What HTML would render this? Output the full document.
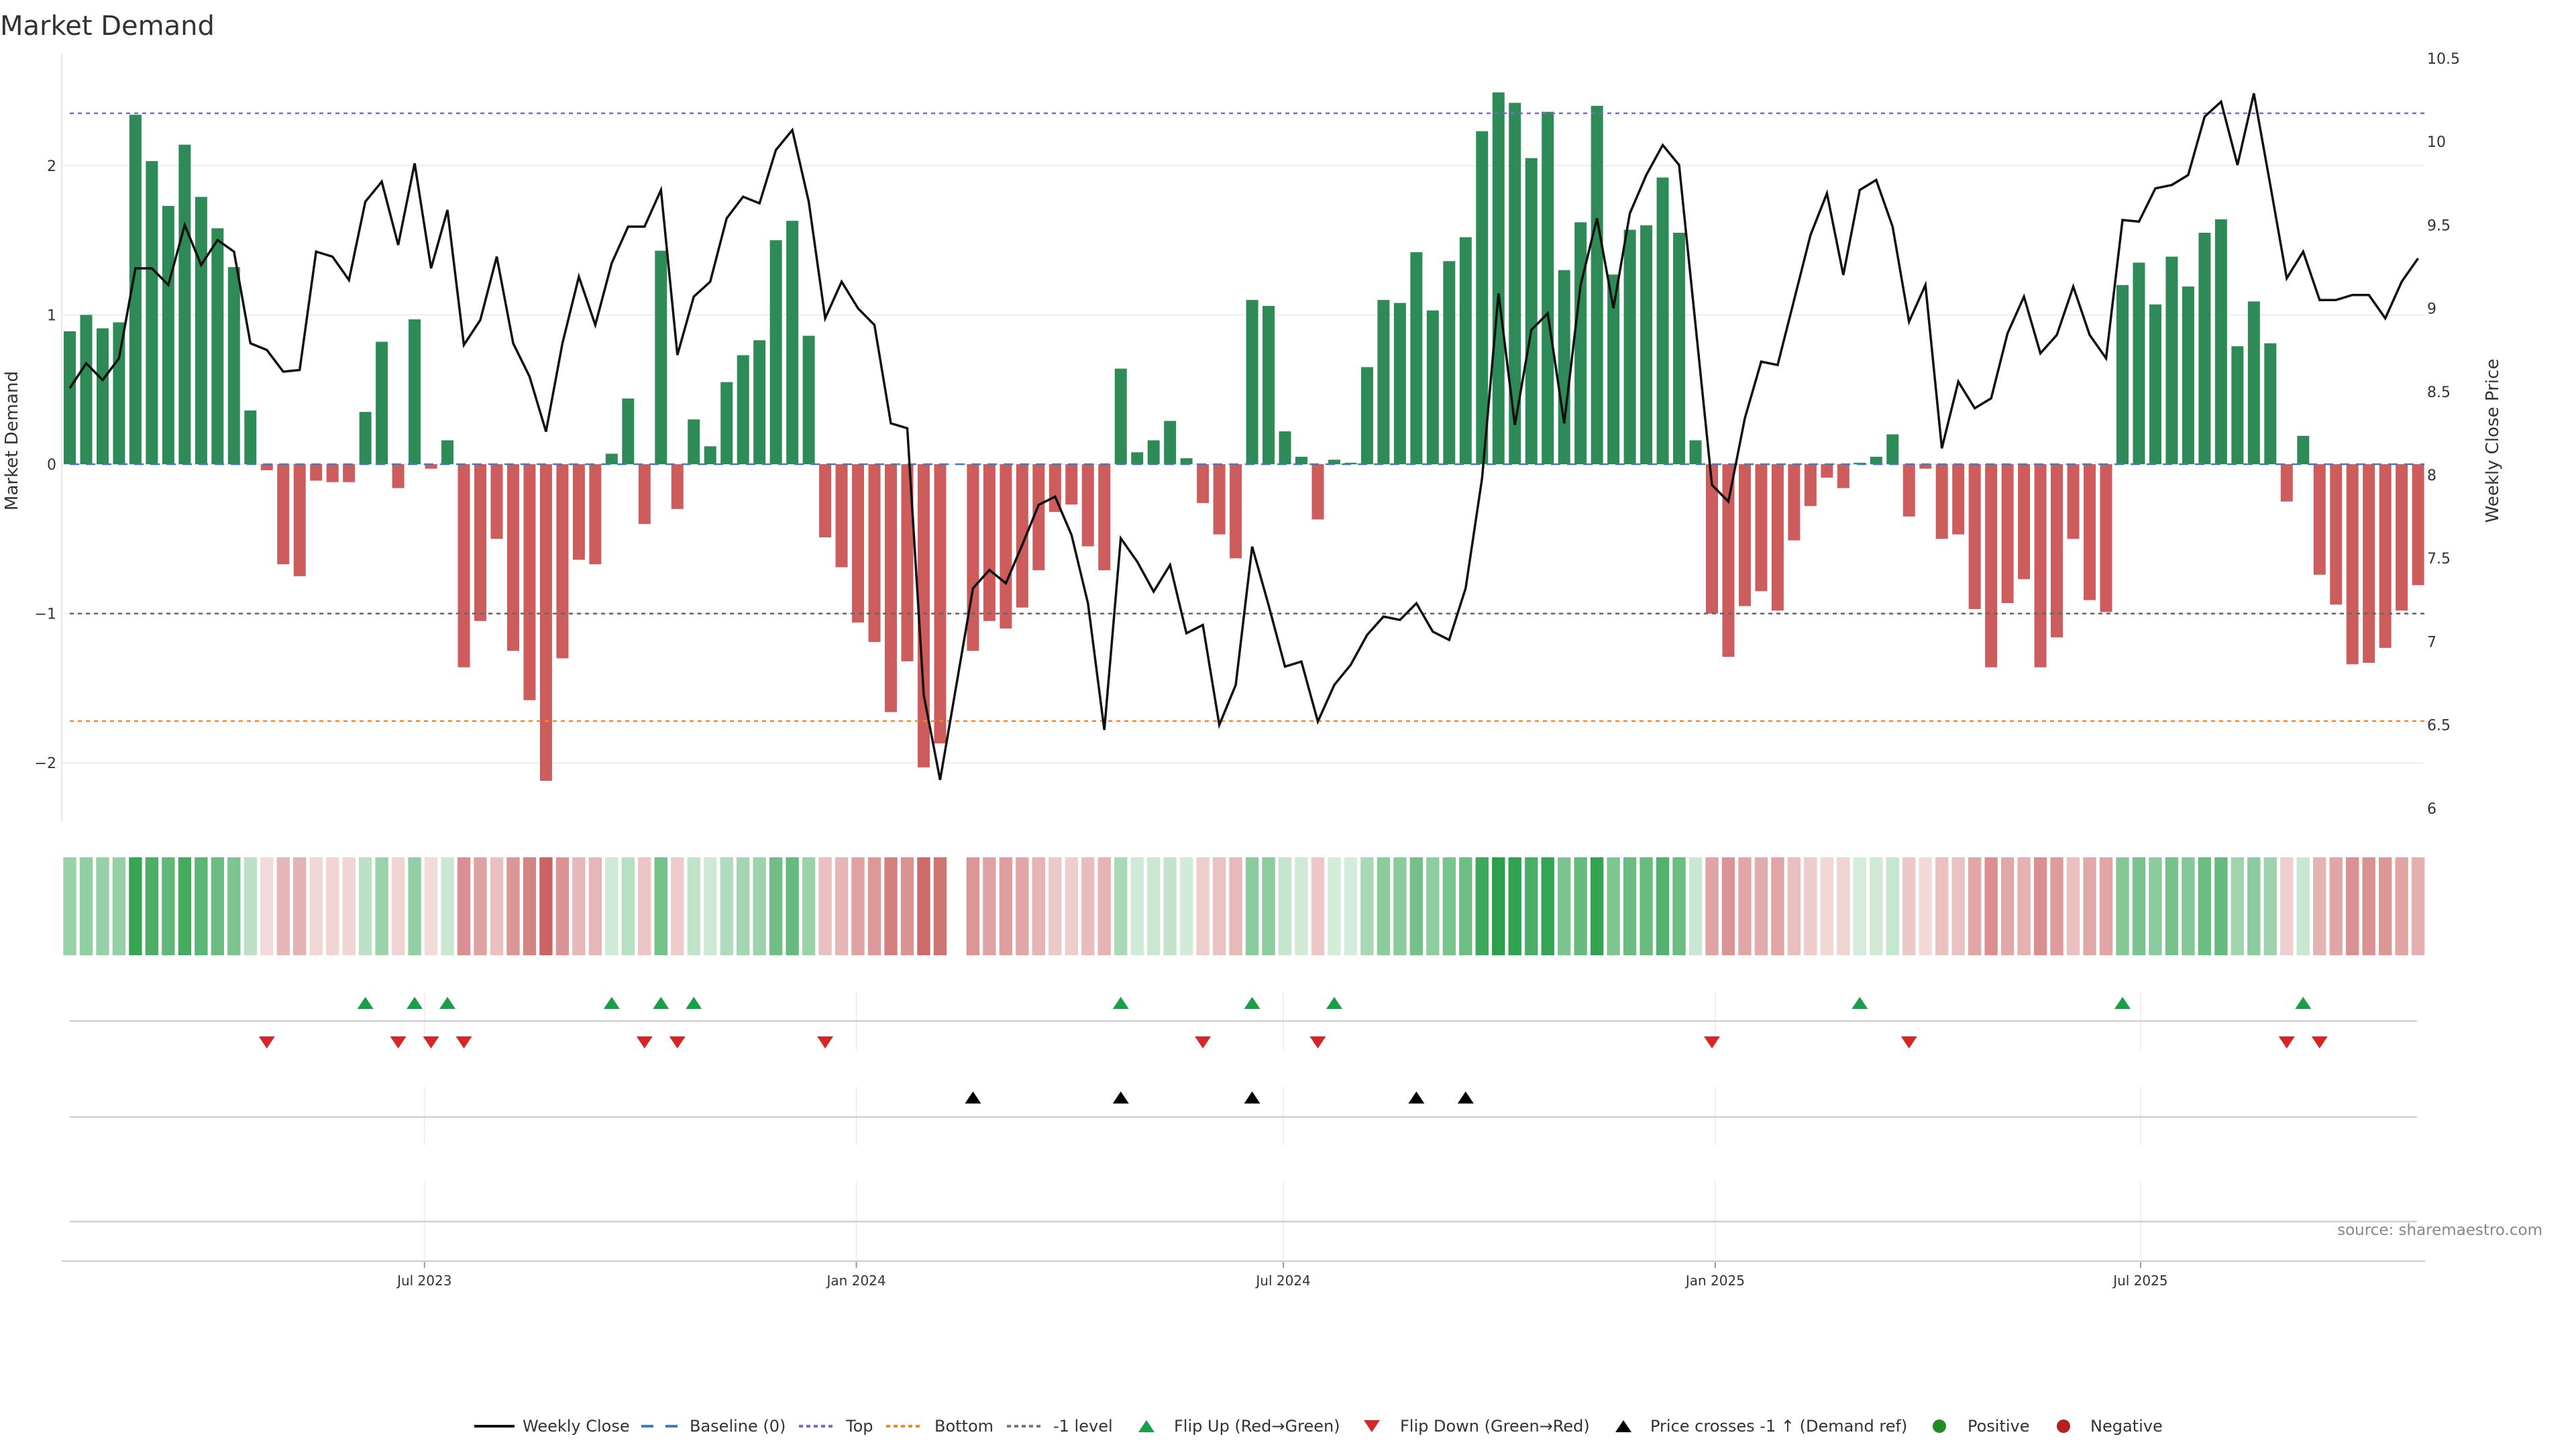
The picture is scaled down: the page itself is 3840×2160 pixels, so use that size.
<!DOCTYPE html>
<html><head><meta charset="utf-8"><title>Market Demand</title>
<style>
html,body{margin:0;padding:0;background:#fff;}
svg{display:block;font-family:"DejaVu Sans","Liberation Sans",sans-serif;}
</style></head>
<body>
<svg id="chart" width="3840" height="2160" viewBox="0 0 3840 2160" xmlns="http://www.w3.org/2000/svg">
<rect x="0" y="0" width="3840" height="2160" fill="#fff"/>
<text x="0" y="52" font-size="40" fill="#333">Market Demand</text>
<text transform="translate(26,657) rotate(-90)" text-anchor="middle" font-size="26" fill="#333">Market Demand</text>
<text transform="translate(3724,657) rotate(-90)" text-anchor="middle" font-size="26" fill="#333">Weekly Close Price</text>
<text x="3790" y="1841" text-anchor="end" font-size="23" fill="#888">source: sharemaestro.com</text>
<g id="grid"></g><g id="bars"></g><g id="refs"></g><g id="line"></g><g id="axes"></g><g id="heat"></g><g id="marks"></g><g id="legend"></g>
</svg>
<script>
const demand = [0.89,1.0,0.91,0.95,2.34,2.03,1.73,2.14,1.79,1.58,
1.32,0.36,-0.04,-0.67,-0.75,-0.11,-0.12,-0.12,0.35,0.82,
-0.16,0.97,-0.03,0.16,-1.36,-1.05,-0.5,-1.25,-1.58,-2.12,
-1.3,-0.64,-0.67,0.07,0.44,-0.4,1.43,-0.3,0.3,0.12,
0.55,0.73,0.83,1.5,1.63,0.86,-0.49,-0.69,-1.06,-1.19,
-1.66,-1.32,-2.03,-1.87,null,-1.25,-1.05,-1.1,-0.96,-0.71,
-0.32,-0.27,-0.55,-0.71,0.64,0.08,0.16,0.29,0.04,-0.26,
-0.47,-0.63,1.1,1.06,0.22,0.05,-0.37,0.03,0.01,0.65,
1.1,1.08,1.42,1.03,1.36,1.52,2.23,2.49,2.42,2.05,
2.36,1.3,1.62,2.4,1.27,1.57,1.6,1.92,1.55,0.16,
-1.0,-1.29,-0.95,-0.85,-0.98,-0.51,-0.28,-0.09,-0.16,0.01,
0.05,0.2,-0.35,-0.03,-0.5,-0.47,-0.97,-1.36,-0.93,-0.77,
-1.36,-1.16,-0.5,-0.91,-0.99,1.2,1.35,1.07,1.39,1.19,
1.55,1.64,0.79,1.09,0.81,-0.25,0.19,-0.74,-0.94,-1.34,
-1.33,-1.23,-0.98,-0.81];
const price = [8.52,8.67,8.57,8.70,9.24,9.24,9.14,9.5,9.26,9.41,
9.34,8.79,8.75,8.62,8.63,9.34,9.31,9.17,9.64,9.76,
9.38,9.87,9.24,9.59,8.78,8.93,9.31,8.79,8.59,8.26,
8.79,9.19,8.9,9.27,9.49,9.49,9.71,8.72,9.07,9.16,
9.54,9.67,9.63,9.95,10.07,9.64,8.94,9.16,9.0,8.9,
8.31,8.28,6.68,6.17,null,7.32,7.43,7.35,7.58,7.82,
7.87,7.64,7.23,6.47,7.62,7.48,7.3,7.46,7.05,7.1,
6.5,6.74,7.57,7.22,6.85,6.88,6.52,6.74,6.86,7.04,
7.15,7.13,7.23,7.06,7.01,7.32,7.98,9.09,8.3,8.87,
8.97,8.31,9.14,9.54,9.0,9.57,9.8,9.98,9.86,8.9,
7.94,7.84,8.34,8.68,8.66,9.05,9.44,9.69,9.2,9.71,
9.77,9.49,8.92,9.14,8.16,8.56,8.4,8.46,8.85,9.07,
8.73,8.84,9.13,8.84,8.7,9.53,9.52,9.72,9.74,9.8,
10.15,10.24,9.86,10.29,9.74,9.18,9.34,9.05,9.05,9.08,
9.08,8.94,9.16,9.3];
const demandTicks = [-2,-1,0,1,2];
const demandTickLabels = ["\u22122","\u22121","0","1","2"];
const priceTicks = [6,6.5,7,7.5,8,8.5,9,9.5,10,10.5];
const priceTickLabels = ["6","6.5","7","7.5","8","8.5","9","9.5","10","10.5"];
const monthTickIdx = [21.6,47.9,73.9,100.2,126.1];
const monthTickLabels = ["Jul 2023","Jan 2024","Jul 2024","Jan 2025","Jul 2025"];
const topLevel = 2.35, bottomLevel = -1.72, minusLevel = -1;

const NS = "http://www.w3.org/2000/svg";
const X0 = 104, DX = 24.48;
function xs(i){ return X0 + i*DX; }
function yd(v){ return 692 - v*222.6; }
function yp(p){ return 708 - (p-8)*248.4; }
function pd(y){ return 8 - (y-708)/248.4; }
function mk(tag, attrs, parent){ const e=document.createElementNS(NS,tag); for(const k in attrs) e.setAttribute(k,attrs[k]); document.getElementById(parent).appendChild(e); return e; }
const PL = 92, PR = 3614;

demandTicks.forEach((t,k)=>{
  const g = mk('line',{x1:PL,x2:PR,y1:yd(t),y2:yd(t),stroke:'#ececec','stroke-width':2},'grid');
  
  
  const lb = mk('text',{x:84,y:yd(t)+8,'text-anchor':'end','font-size':22,fill:'#333'},'axes');
  lb.textContent = demandTickLabels[k];
  
  
});
priceTicks.forEach((t,k)=>{
  const lb = mk('text',{x:3618,y:yp(t)+8,'font-size':22,fill:'#333'},'axes');
  lb.textContent = priceTickLabels[k];
  
  
});
const spine = mk('line',{x1:92,x2:92,y1:80,y2:1225,stroke:'#e6e6e6','stroke-width':2},'axes');



demand.forEach((v,i)=>{
  if(v===null) return;
  const y0=yd(0), y1=yd(v);
  const b = mk('rect',{x:xs(i)-9,y:Math.min(y0,y1),width:18,height:Math.max(1,Math.abs(y1-y0)),fill:v>=0?'#2e8b57':'#cd5c5c'},'bars');
  
  
});

function refLine(v,color,dash,name){
  const l = mk('line',{x1:104,x2:PR,y1:yd(v),y2:yd(v),stroke:color,'stroke-width':2.5,'stroke-dasharray':dash},'refs');
  
  
}
refLine(0,'#3a7fc0','14 10','baseline-zero');
refLine(topLevel,'#7b68ce','6 6','top-level-line');
refLine(minusLevel,'#666','6 6','minus-one-level-line');
refLine(bottomLevel,'#ee8a2a','6 6','bottom-level-line');

let d='';
price.forEach((p,i)=>{ if(p===null) return; d += (d?'L':'M') + xs(i).toFixed(1)+','+yp(p).toFixed(1); });
const pl = mk('path',{d:d,fill:'none',stroke:'#111','stroke-width':3.5,'stroke-linejoin':'miter'},'line');



demand.forEach((v,i)=>{
  if(v===null) return;
  const a = 0.2 + 0.8*Math.min(Math.abs(v)/2.5,1);
  const base = v>=0 ? [44,160,76] : [196,80,80];
  const c = base.map(ch=>Math.round(255 - (255-ch)*a));
  const r = mk('rect',{x:xs(i)-9.7,y:1278,width:19.4,height:146,fill:'rgb('+c.join(',')+')'},'heat');
  
  
});

[[1522,104,3603],[1665,104,3603],[1821,104,3603],[1880,92,3615]].forEach((L,k)=>{
  const l = mk('line',{x1:L[1],x2:L[2],y1:L[0],y2:L[0],stroke:'#d0d0d0','stroke-width':2.5},'marks');
  
  
});
monthTickIdx.forEach((t,k)=>{
  const x = xs(t);
  [[1480,1565],[1620,1707],[1761,1877]].forEach(seg=>{
    const g = mk('line',{x1:x,x2:x,y1:seg[0],y2:seg[1],stroke:'#eeeeee','stroke-width':2},'grid');
    
    
  });
  const tk = mk('line',{x1:x,x2:x,y1:1880,y2:1890,stroke:'#999','stroke-width':2},'axes');
  
  
  const lb = mk('text',{x:x,y:1916,'text-anchor':'middle','font-size':20,fill:'#333'},'axes');
  lb.textContent = monthTickLabels[k];
  
  
});
function tri(x,y,up,color,name){
  const pts = up ? [[x-12,y+9],[x+12,y+9],[x,y-9]] : [[x-12,y-9],[x+12,y-9],[x,y+9]];
  const t = mk('polygon',{points:pts.map(p=>p.join(',')).join(' '),fill:color},'marks');
  
  
}
let prevV=null;
demand.forEach((v,i)=>{
  if(v===null) return;
  if(prevV!==null){
    if(prevV<0 && v>=0) tri(xs(i),1495,true,'#1a9e4a','flip-up-marker');
    if(prevV>=0 && v<0) tri(xs(i),1554,false,'#d62728','flip-down-marker');
  }
  prevV=v;
});
const crossPrice = pd(yd(minusLevel));
let prevP=null;
price.forEach((p,i)=>{
  if(p===null) return;
  if(prevP!==null && prevP<crossPrice && p>=crossPrice) tri(xs(i),1636,true,'#000','price-cross-marker');
  prevP=p;
});

const LY = 2126;
function legText(x,s,name){ const t=mk('text',{x:x,y:LY+8,'font-size':24,fill:'#333'},'legend'); t.textContent=s;   }
function legLine(x1,x2,color,dash,w,name){ const l=mk('line',{x1:x1,x2:x2,y1:LY,y2:LY,stroke:color,'stroke-width':w,'stroke-dasharray':dash},'legend');   }
legLine(707,767,'#111','none',4,'legend-swatch-weekly-close'); legText(779,'Weekly Close','legend-weekly-close');
legLine(956,1010,'#3a7fc0','18 18',4,'legend-swatch-baseline'); legText(1028,'Baseline (0)','legend-baseline');
legLine(1191,1245,'#7b68ce','6 5',4,'legend-swatch-top'); legText(1261,'Top','legend-top');
legLine(1321,1375,'#ee8a2a','6 5',4,'legend-swatch-bottom'); legText(1393,'Bottom','legend-bottom');
legLine(1501,1554,'#777','6 5',4,'legend-swatch-minus-one'); legText(1570,'-1 level','legend-minus-one-level');
tri(1709,LY,true,'#1a9e4a','legend-swatch-flip-up'); legText(1750,'Flip Up (Red\u2192Green)','legend-flip-up');
tri(2045,LY,false,'#d62728','legend-swatch-flip-down'); legText(2087,'Flip Down (Green\u2192Red)','legend-flip-down');
tri(2420,LY,true,'#000','legend-swatch-price-cross'); legText(2460,'Price crosses -1 \u2191 (Demand ref)','legend-price-cross');
const c1=mk('circle',{cx:2891,cy:LY,r:10,fill:'#228b22'},'legend');   legText(2933,'Positive','legend-positive');
const c2=mk('circle',{cx:3076,cy:LY,r:10,fill:'#b22222'},'legend');   legText(3116,'Negative','legend-negative');
</script>
</body></html>
